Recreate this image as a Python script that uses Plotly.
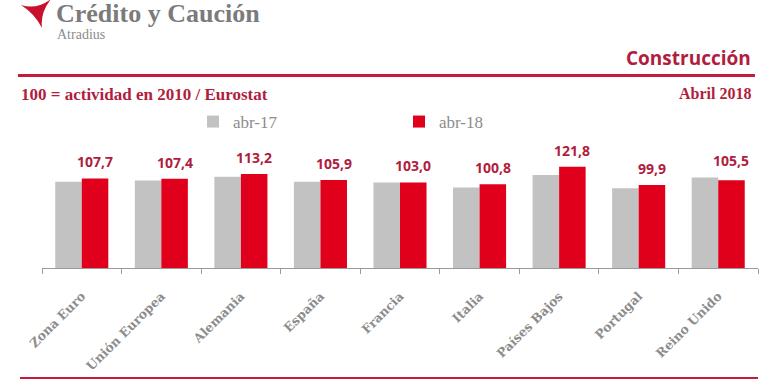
import plotly.graph_objects as go

categories = ["Zona Euro", "Unión Europea", "Alemania", "España", "Francia",
              "Italia", "Países Bajos", "Portugal", "Reino Unido"]
abr17 = [103.7, 105.4, 109.7, 103.7, 102.8, 97.0, 111.8, 95.8, 109.0]
abr18 = [107.7, 107.4, 113.2, 105.9, 103.0, 100.8, 121.8, 99.9, 105.5]
series_names = ["abr-17", "abr-18"]

W, H = 770, 380
PLOT_L, PLOT_R, PLOT_T, PLOT_B = 42, 758, 140, 268
L, R, T, B = PLOT_L, W - PLOT_R, PLOT_T, H - PLOT_B
PW, PH = PLOT_R - PLOT_L, PLOT_B - PLOT_T
BARGAP = 0.333

def px(x):
    return (x - PLOT_L) / PW

def py(y):
    return (PLOT_B - y) / PH

CRIMSON = "#b01d3e"
RED = "#e0001b"
GREY_BAR = "#c2c2c2"
GREY_TXT = "#8c8c8c"

fig = go.Figure()
fig.add_trace(go.Bar(x=categories, y=abr17, name=series_names[0],
                     marker=dict(color=GREY_BAR, line=dict(width=0))))
fig.add_trace(go.Bar(x=categories, y=abr18, name=series_names[1],
                     marker=dict(color=RED, line=dict(width=0))))

# value labels above the red bars
half_bar = PW / len(categories) * (1 - BARGAP) / 4
annotations = []
for c, g, r in zip(categories, abr17, abr18):
    annotations.append(dict(
        x=c, y=max(g, r), xref="x", yref="y", xshift=half_bar, yshift=5,
        text=f"{r:.1f}".replace(".", ","), showarrow=False,
        xanchor="center", yanchor="bottom",
        font=dict(family="Open Sans", size=14, color=CRIMSON, weight="bold")))

serif = "Liberation Serif"
annotations += [
    dict(x=px(54), y=py(13), xref="paper", yref="paper", text="Crédito y Caución",
         showarrow=False, xanchor="left", yanchor="middle",
         font=dict(family=serif, size=26, color="#7b7b7b", weight="bold")),
    dict(x=px(55), y=py(34), xref="paper", yref="paper", text="Atradius",
         showarrow=False, xanchor="left", yanchor="middle",
         font=dict(family=serif, size=14, color=GREY_TXT)),
    dict(x=px(753), y=py(58), xref="paper", yref="paper", text="Construcción",
         showarrow=False, xanchor="right", yanchor="middle",
         font=dict(family="Open Sans", size=19, color=CRIMSON, weight="bold")),
    dict(x=px(19), y=py(94), xref="paper", yref="paper",
         text="100 = actividad en 2010 / Eurostat",
         showarrow=False, xanchor="left", yanchor="middle",
         font=dict(family=serif, size=17, color=CRIMSON, weight="bold")),
    dict(x=px(753), y=py(93), xref="paper", yref="paper", text="Abril 2018",
         showarrow=False, xanchor="right", yanchor="middle",
         font=dict(family=serif, size=16, color=CRIMSON, weight="bold")),
]

def pt(x, y):
    return f"{px(x):.5f},{py(y):.5f}"

logo_path = ("M " + pt(21, 5) + " Q " + pt(37, 10) + " " + pt(51, -1) +
             " Q " + pt(40, 13) + " " + pt(42, 28) +
             " Q " + pt(35, 14) + " " + pt(21, 5) + " Z")

shapes = [
    dict(type="line", xref="paper", yref="paper", x0=px(18), x1=px(755),
         y0=py(75.5), y1=py(75.5), line=dict(color="#c41a3b", width=3)),
    dict(type="line", xref="paper", yref="paper", x0=px(20), x1=px(758),
         y0=py(378), y1=py(378), line=dict(color="#c41a3b", width=2)),
    dict(type="path", xref="paper", yref="paper", path=logo_path,
         fillcolor="#c8102e", line=dict(width=0)),
]

fig.update_layout(
    width=W, height=H,
    margin=dict(l=L, r=R, t=T, b=B, autoexpand=False),
    paper_bgcolor="white", plot_bgcolor="white",
    barmode="group", bargap=BARGAP, bargroupgap=0,
    showlegend=True,
    legend=dict(orientation="h", x=px(193), y=py(122), xanchor="left",
                yanchor="middle", entrywidth=161, entrywidthmode="pixels",
                font=dict(family=serif, size=17, color=GREY_TXT),
                bgcolor="rgba(0,0,0,0)", itemclick=False),
    annotations=annotations,
    shapes=shapes,
    xaxis=dict(showline=True, linecolor="#9a9a9a", linewidth=1,
               ticks="outside", tickson="boundaries", ticklen=5,
               tickcolor="#9a9a9a", tickangle=-45, showgrid=False,
               ticklabelstandoff=15,
               tickfont=dict(family="DejaVu Serif", size=12.5, color=GREY_TXT,
                             weight="bold")),
    yaxis=dict(range=[0, 154], visible=False, showgrid=False),
)

fig.write_html("out.html",
               config={"displayModeBar": False},
               post_script="document.body.style.margin='0';"
                           "document.body.style.overflow='hidden';")
